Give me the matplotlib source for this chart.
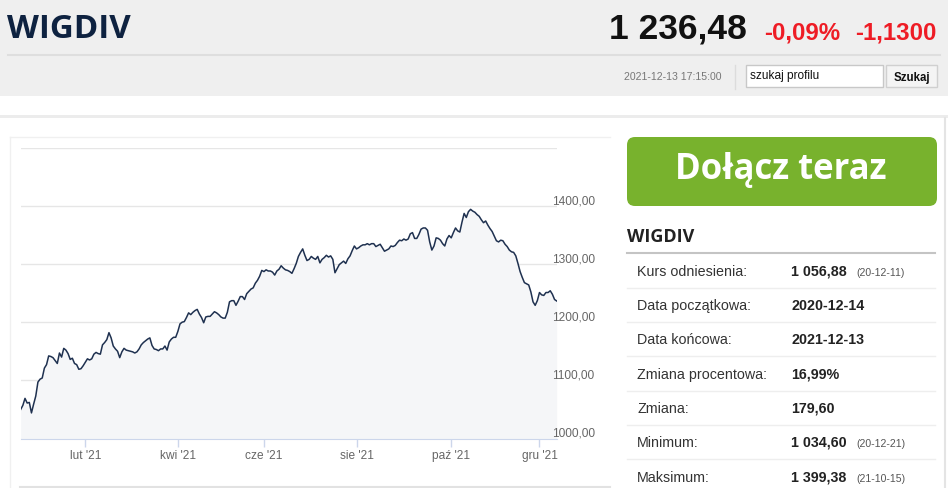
import numpy as np
import pandas as pd
import matplotlib
matplotlib.use('Agg')
import matplotlib.pyplot as plt
from matplotlib.patches import Rectangle, FancyBboxPatch
from matplotlib.lines import Line2D
from matplotlib.transforms import IdentityTransform

# Notowania WIGDIV - zamkniecia sesji (12.2020 - 12.2021)
holidays = ['2020-12-24', '2020-12-25', '2020-12-31', '2021-01-01', '2021-01-06',
            '2021-04-02', '2021-04-05', '2021-05-03', '2021-06-03',
            '2021-11-01', '2021-11-11']
dates = pd.bdate_range('2020-12-14', '2021-12-13')
dates = dates[~dates.isin(pd.to_datetime(holidays))]

closes = [
    1050, 1057, 1069, 1061, 1062, 1044, 1059, 1073, 1097, 1102,
    1104, 1121, 1127, 1142, 1141, 1139, 1134, 1129, 1147, 1140,
    1155, 1152, 1146, 1136, 1138, 1129, 1127, 1119, 1120, 1125,
    1131, 1137, 1135, 1137, 1145, 1148, 1146, 1145, 1161, 1165,
    1170, 1182, 1173, 1159, 1154, 1150, 1139, 1149, 1155, 1152,
    1151, 1150, 1149, 1147, 1149, 1154, 1161, 1165, 1168, 1171,
    1173, 1160, 1154, 1153, 1151, 1154, 1154, 1159, 1152, 1166,
    1171, 1174, 1174,
    1184, 1197, 1200, 1201, 1208, 1216, 1213, 1217, 1220, 1222,
    1214, 1208, 1199, 1209, 1210, 1210, 1214, 1218, 1216, 1213,
    1209, 1207, 1207, 1217, 1235, 1237, 1237, 1229, 1236, 1244,
    1244, 1239, 1249, 1253, 1257, 1259, 1267, 1272, 1279, 1289,
    1287, 1290, 1288, 1288, 1286, 1281, 1288, 1291, 1297, 1293,
    1290, 1289, 1287, 1284, 1292, 1301, 1313, 1320, 1326, 1315,
    1306, 1308, 1313, 1310, 1308, 1313, 1302, 1308, 1311, 1315,
    1312, 1314, 1308, 1285, 1292, 1299, 1302, 1305, 1301, 1309,
    1314, 1323, 1331,
    1326, 1328, 1331, 1333, 1333, 1335, 1333, 1335, 1335, 1330,
    1332, 1334, 1328, 1322, 1324, 1326, 1331, 1330, 1332, 1337,
    1341, 1340, 1343, 1341, 1343, 1352, 1354, 1344, 1344, 1351,
    1360, 1362, 1362, 1358, 1338, 1324, 1331, 1345, 1344, 1341,
    1335, 1331, 1343, 1349,
    1345, 1354, 1362, 1357, 1355, 1372, 1387, 1380, 1390, 1394,
    1391, 1389, 1385, 1382, 1376, 1371, 1374, 1367, 1361, 1356,
    1348, 1340, 1338, 1341, 1340, 1334, 1330, 1324, 1321, 1320,
    1314, 1301, 1287, 1277, 1268, 1266, 1264, 1252, 1235, 1229,
    1237,
    1251, 1247, 1246, 1251, 1251, 1254, 1248, 1239, 1236.48,
]

tick_months = ['2021-02', '2021-04', '2021-06', '2021-08', '2021-10', '2021-12']
tick_labels = ["lut '21", "kwi '21", "cze '21", "sie '21", "paź '21", "gru '21"]
y_ticks = [1000, 1100, 1200, 1300, 1400, 1500]

table_labels = ['Kurs odniesienia:', 'Data początkowa:', 'Data końcowa:',
                'Zmiana procentowa:', 'Zmiana:', 'Minimum:', 'Maksimum:']
table_values = ['1 056,88', '2020-12-14', '2021-12-13', '16,99%', '179,60',
                '1 034,60', '1 399,38']
table_notes = ['(20-12-11)', '', '', '', '', '(20-12-21)', '(21-10-15)']

W, H = 948, 489
fig = plt.figure(figsize=(W / 100, H / 100), dpi=100)
fig.patch.set_facecolor('white')


def fx(x):
    return x / W


def fy(y):
    return 1 - y / H


def box(x, y, w, h, **kw):
    fig.add_artist(Rectangle((fx(x), fy(y + h)), w / W, h / H,
                             transform=fig.transFigure, **kw))


def hline(x0, x1, y, color, lw=1):
    fig.add_artist(Line2D([fx(x0), fx(x1)], [fy(y), fy(y)], color=color, lw=lw,
                          transform=fig.transFigure))


def vline(x, y0, y1, color, lw=1):
    fig.add_artist(Line2D([fx(x), fx(x)], [fy(y0), fy(y1)], color=color, lw=lw,
                          transform=fig.transFigure))


def txt(x, y, s, **kw):
    kw.setdefault('va', 'center')
    fig.text(fx(x), fy(y), s, **kw)


ARIAL = 'Liberation Sans'
OPEN = 'Open Sans'

# naglowek strony
box(0, 0, W, 97, color='#efefef', lw=0)
hline(8, 940, 55.5, '#dedede', lw=1.5)
vline(735, 66, 90, '#dcdcdc')
box(0, 116, W, 3, color='#ececec', lw=0)
vline(945, 119, H, '#e4e4e4', lw=1.5)

txt(7, 29, 'WIGDIV', family=OPEN, weight='bold', fontsize=23.8, color='#0e2240')
txt(609, 29, '1 236,48', family=ARIAL, weight='bold', fontsize=25.5, color='#111111')
txt(764, 33, '-0,09%', family=ARIAL, weight='bold', fontsize=17.3, color='#ee1c25')
txt(855, 33, '-1,1300', family=ARIAL, weight='bold', fontsize=17.3, color='#ee1c25')
txt(722, 76.5, '2021-12-13 17:15:00', family=ARIAL, fontsize=7.6, color='#777777', ha='right')

box(746, 66, 137, 22, facecolor='white', edgecolor='#c8c8c8', lw=1)
txt(750, 76.5, 'szukaj profilu', family=ARIAL, fontsize=8.6, color='#111111')
box(886, 66, 51, 22, facecolor='#f4f4f4', edgecolor='#d0d0d0', lw=1)
txt(911.5, 77.5, 'Szukaj', family=ARIAL, weight='bold', fontsize=8.3, color='#111111', ha='center')

# ramka wykresu
hline(10, 610, 138, '#f0f0f0')
vline(10, 138, H, '#f0f0f0')
hline(20, 610, 487.5, '#e2e2e2', lw=1.5)

# wykres
ax = fig.add_axes([fx(20.7), fy(439.5), (556.7 - 20.7) / W, (439.5 - 148.7) / H])
x = np.arange(len(closes))
ax.fill_between(x, closes, y_ticks[0], color='#f5f6f8', lw=0)
ax.plot(x, closes, color='#1f3150', lw=1.1, solid_joinstyle='round')
ax.set_xlim(0, len(closes) - 1)
ax.set_ylim(y_ticks[0], y_ticks[-1])

month_keys = dates.strftime('%Y-%m')
tick_pos = [int(np.argmax(month_keys == m)) for m in tick_months]
ax.set_xticks(tick_pos)
ax.set_xticklabels(tick_labels, family=ARIAL, fontsize=8.6, color='#666666')
ax.tick_params(axis='x', length=5.5, width=1, color='#ccd6eb', pad=1.8)

ax.set_yticks(y_ticks)
ax.set_yticklabels([])
ax.tick_params(axis='y', length=0)
ax.grid(axis='y', color='#e6e6e6', lw=1)
ax.set_axisbelow(True)
for side in ['top', 'left', 'right']:
    ax.spines[side].set_visible(False)
ax.spines['bottom'].set_color('#ccd6eb')
ax.patch.set_alpha(0)

for v in y_ticks[:-1]:
    ax.text(0.9915, v + 10, f'{v},00', transform=ax.get_yaxis_transform(),
            family=ARIAL, fontsize=8.6, color='#666666', ha='left', va='center',
            clip_on=False)

# panel po prawej
fig.add_artist(FancyBboxPatch((627, H - 207), 310, 69,
                              boxstyle='round,pad=0,rounding_size=8',
                              transform=IdentityTransform(), facecolor='#78b22d', lw=0))
txt(781, 170, 'Dołącz teraz', family=OPEN, weight='bold', fontsize=25, color='white', ha='center')

txt(627, 237, 'WIGDIV', family=OPEN, weight='bold', fontsize=13, color='#222222')
hline(627, 935, 254, '#c4c4c4', lw=1.5)

row_y = [272, 306, 340, 375, 409, 443, 478]
for i, yy in enumerate(row_y):
    txt(637, yy, table_labels[i], family=ARIAL, fontsize=10.3, color='#333333')
    txt(791, yy, table_values[i], family=ARIAL, weight='bold', fontsize=10.3, color='#222222')
    if table_notes[i]:
        txt(856, yy + 1, table_notes[i], family=ARIAL, fontsize=7.6, color='#555555')
    if i < len(row_y) - 1:
        hline(627, 935, yy + 17, '#eeeeee')

fig.savefig('out.png', dpi=100)
